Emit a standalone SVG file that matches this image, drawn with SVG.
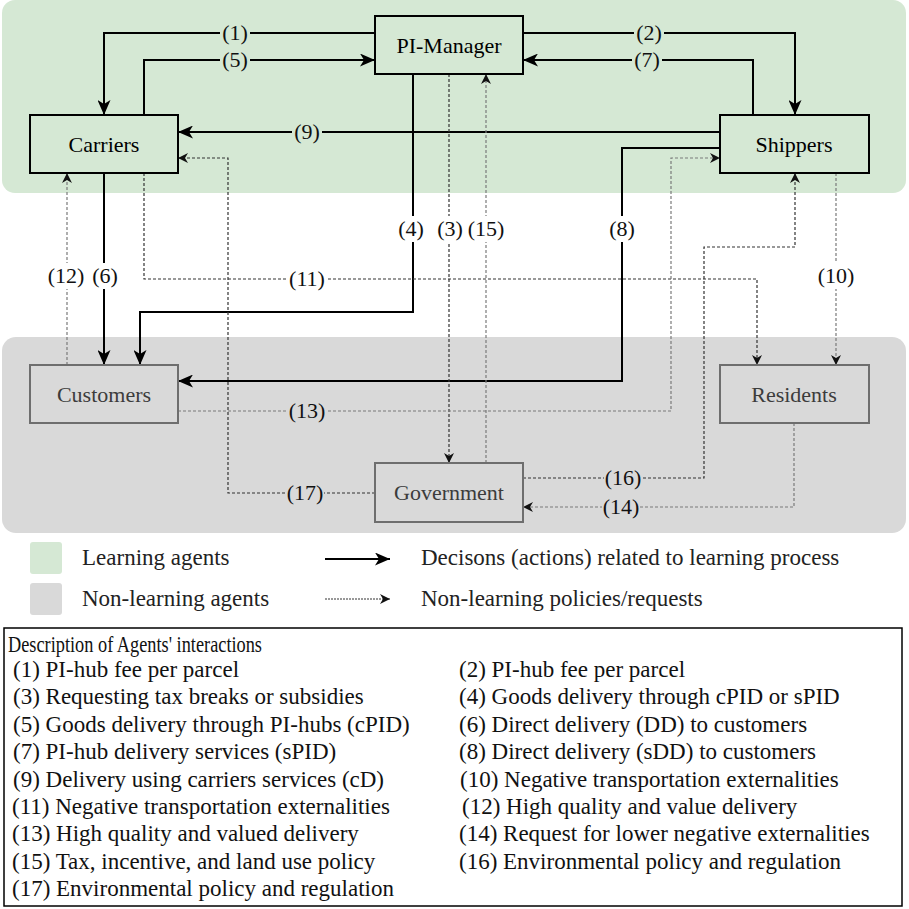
<svg xmlns="http://www.w3.org/2000/svg" width="909" height="909" viewBox="0 0 909 909">
<style>
text{font-family:"Liberation Serif","Times New Roman",Times,serif;}
.band-g{fill:#d5e8d4;}
.band-n{fill:#d9d9d9;}
.lbox{fill:#d5e8d4;stroke:#000;stroke-width:2;}
.nbox{fill:#d9d9d9;stroke:#6e6e6e;stroke-width:2;}
.ltxt{font-size:22px;fill:#000;text-anchor:middle;}
.ntxt{font-size:22px;fill:#3c3c3c;text-anchor:middle;}
.solid{fill:none;stroke:#000;stroke-width:2;marker-end:url(#ah);}
.dash{fill:none;stroke:#333;stroke-width:1.2;stroke-dasharray:3 2;marker-end:url(#ahd);}
.dashg{fill:none;stroke:#7a7a7a;stroke-width:1.2;stroke-dasharray:3 2;marker-end:url(#ahd);}
.lab{font-size:22px;fill:#111;text-anchor:middle;}
.bg-g{fill:#d5e8d4;}
.bg-w{fill:#ffffff;}
.bg-n{fill:#d9d9d9;}
.leg{font-size:23px;fill:#222;}
.desc{font-size:23px;fill:#111;}
</style>
<defs>
<marker id="ah" markerUnits="userSpaceOnUse" markerWidth="15" markerHeight="13" viewBox="0 0 15 13" refX="15" refY="6.5" orient="auto">
<path d="M0,0 L15,6.5 L0,13 L4,6.5 z" fill="#000"/>
</marker>
<marker id="ahd" markerUnits="userSpaceOnUse" markerWidth="10" markerHeight="10" viewBox="0 0 10 10" refX="10" refY="5" orient="auto">
<path d="M0,0 L10,5 L0,10 L3,5 z" fill="#111"/>
</marker>
</defs>

<rect class="band-g" x="2" y="0" width="904" height="193" rx="13"/>
<rect class="band-n" x="2" y="337" width="904" height="196" rx="14"/>

<g id="connectors">
<path class="solid" d="M375,33 H104 V115"/>
<path class="solid" d="M144,115 V60 H375"/>
<path class="solid" d="M523,33 H795 V115"/>
<path class="solid" d="M753,115 V60 H523"/>
<path class="solid" d="M720,132 H178"/>
<path class="solid" d="M104,173 V365"/>
<path class="solid" d="M413,74 V312 H140 V365"/>
<path class="solid" d="M720,148 H622 V381 H178"/>
<path class="dash" d="M449,74 V463"/>
<path class="dashg" d="M486,463 V74"/>
<path class="dash" d="M375,493 H228 V158 H178"/>
<path class="dashg" d="M67,365 V173"/>
<path class="dash" d="M144,173 V279 H757 V365"/>
<path class="dashg" d="M836,173 V365"/>
<path class="dashg" d="M178,411 H671 V158 H720"/>
<path class="dash" d="M523,478 H704 V247 H795 V173"/>
<path class="dashg" d="M794,423 V507 H523"/>
<rect class="bg-g" x="220" y="22" width="30" height="22"/>
<rect class="bg-g" x="220" y="49" width="30" height="22"/>
<rect class="bg-g" x="634" y="22" width="30" height="22"/>
<rect class="bg-g" x="632" y="49" width="30" height="22"/>
<rect class="bg-g" x="292" y="121" width="30" height="22"/>
<rect class="bg-w" x="397" y="216" width="28" height="26"/>
<rect class="bg-w" x="436" y="216" width="28" height="26"/>
<rect class="bg-w" x="467" y="216" width="38" height="26"/>
<rect class="bg-w" x="608" y="216" width="28" height="26"/>
<rect class="bg-w" x="47" y="263" width="38" height="26"/>
<rect class="bg-w" x="91" y="263" width="28" height="26"/>
<rect class="bg-w" x="288" y="266" width="38" height="26"/>
<rect class="bg-w" x="817" y="263" width="38" height="26"/>
<rect class="bg-n" x="288" y="400" width="38" height="22"/>
<rect class="bg-n" x="286" y="482" width="38" height="22"/>
<rect class="bg-n" x="604" y="467" width="38" height="22"/>
<rect class="bg-n" x="602" y="496" width="38" height="22"/>
<text class="lab" x="235" y="40">(1)</text>
<text class="lab" x="235" y="67">(5)</text>
<text class="lab" x="649" y="40">(2)</text>
<text class="lab" x="647" y="67">(7)</text>
<text class="lab" x="307" y="139">(9)</text>
<text class="lab" x="411" y="236">(4)</text>
<text class="lab" x="450" y="236">(3)</text>
<text class="lab" x="486" y="236">(15)</text>
<text class="lab" x="622" y="236">(8)</text>
<text class="lab" x="66" y="283">(12)</text>
<text class="lab" x="105" y="283">(6)</text>
<text class="lab" x="307" y="286">(11)</text>
<text class="lab" x="836" y="283">(10)</text>
<text class="lab" x="307" y="418">(13)</text>
<text class="lab" x="305" y="500">(17)</text>
<text class="lab" x="623" y="485">(16)</text>
<text class="lab" x="621" y="514">(14)</text>
</g>

<g id="carriers">
<rect class="lbox" x="30" y="115" width="148" height="58"/>
<text class="ltxt" x="104" y="152">Carriers</text>
</g>
<g id="pi-manager">
<rect class="lbox" x="375" y="16" width="148" height="58"/>
<text class="ltxt" x="449" y="53">PI-Manager</text>
</g>
<g id="shippers">
<rect class="lbox" x="720" y="115" width="149" height="58"/>
<text class="ltxt" x="794" y="152">Shippers</text>
</g>
<g id="customers">
<rect class="nbox" x="30" y="365" width="148" height="58"/>
<text class="ntxt" x="104" y="402">Customers</text>
</g>
<g id="residents">
<rect class="nbox" x="720" y="365" width="149" height="58"/>
<text class="ntxt" x="794" y="402">Residents</text>
</g>
<g id="government">
<rect class="nbox" x="375" y="463" width="148" height="59"/>
<text class="ntxt" x="449" y="500">Government</text>
</g>

<g id="legend">
<rect x="30" y="542" width="32" height="32" rx="3" fill="#d5e8d4"/>
<rect x="30" y="583" width="32" height="32" rx="3" fill="#d9d9d9"/>
<text class="leg" x="82" y="565">Learning agents</text>
<text class="leg" x="82" y="606">Non-learning agents</text>
<path d="M325,559 H390" stroke="#000" stroke-width="2" fill="none" marker-end="url(#ah)"/>
<path d="M325,599 H390" stroke="#333" stroke-width="1" stroke-dasharray="2 1" fill="none" marker-end="url(#ahd)"/>
<text class="leg" x="421" y="565">Decisons (actions) related to learning process</text>
<text class="leg" x="421" y="606">Non-learning policies/requests</text>
</g>

<g id="description">
<rect x="4" y="628" width="898" height="278" fill="#fff" stroke="#000" stroke-width="1.5"/>
<text class="desc" x="8" y="652" textLength="254" lengthAdjust="spacingAndGlyphs">Description of Agents' interactions</text>
<text class="desc" x="13" y="677">(1) PI-hub fee per parcel</text>
<text class="desc" x="13" y="704">(3) Requesting tax breaks or subsidies</text>
<text class="desc" x="13" y="732">(5) Goods delivery through PI-hubs (cPID)</text>
<text class="desc" x="13" y="759">(7) PI-hub delivery services (sPID)</text>
<text class="desc" x="13" y="787">(9) Delivery using carriers services (cD)</text>
<text class="desc" x="12" y="814">(11) Negative transportation externalities</text>
<text class="desc" x="12" y="841">(13) High quality and valued delivery</text>
<text class="desc" x="12" y="869">(15) Tax, incentive, and land use policy</text>
<text class="desc" x="12" y="896">(17) Environmental policy and regulation</text>
<text class="desc" x="459" y="677">(2) PI-hub fee per parcel</text>
<text class="desc" x="459" y="704">(4) Goods delivery through cPID or sPID</text>
<text class="desc" x="459" y="732">(6) Direct delivery (DD) to customers</text>
<text class="desc" x="459" y="759">(8) Direct delivery (sDD) to customers</text>
<text class="desc" x="460" y="787">(10) Negative transportation externalities</text>
<text class="desc" x="462" y="814">(12) High quality and value delivery</text>
<text class="desc" x="459" y="841">(14) Request for lower negative externalities</text>
<text class="desc" x="459" y="869">(16) Environmental policy and regulation</text>
</g>
</svg>
